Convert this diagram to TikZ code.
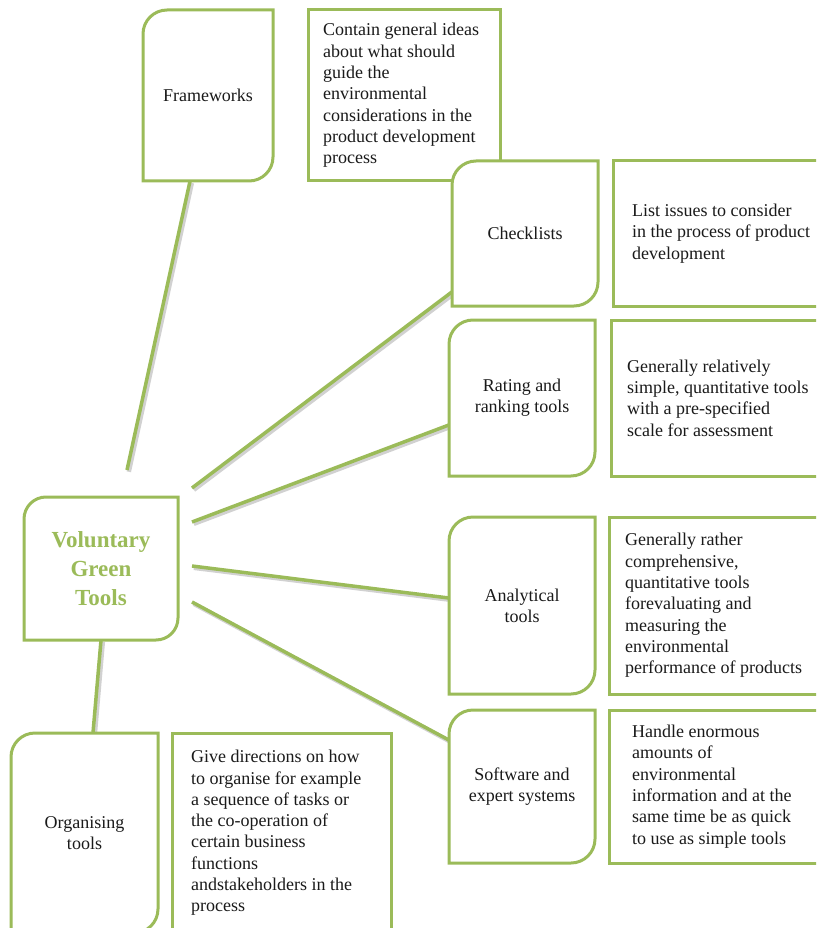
\documentclass[tikz,border=0pt]{standalone}
\usepackage{fontspec}
\setmainfont{Liberation Serif}
\definecolor{gr}{HTML}{9BBB59}
\definecolor{txt}{HTML}{1A1A1A}
\pgfdeclarelayer{bg}
\pgfsetlayers{bg,main}
\newcommand\rr{24}
\tikzset{
  boxline/.style={draw=gr, line width=3pt, fill=white},
  leaftext/.style={inner sep=0pt, align=center, text=txt, font=\fontsize{18}{21.3}\selectfont},
  desctext/.style={inner sep=0pt, align=left, text=txt, font=\fontsize{18}{21.3}\selectfont, anchor=west},
  descbox/.style={boxline, inner sep=0pt, rectangle},
  conn/.style={draw=gr, line width=3.5pt},
  connshadow/.style={draw=black, opacity=0.18, line width=4.5pt, transform canvas={shift={(1.8pt,-1.8pt)}}},
}
% name x1 y1 x2 y2 text   (pixel coordinates, y downward)
\newcommand\leafbox[6]{%
  \filldraw[boxline] (#2,-#5) -- (#2,-#3-\rr) arc[start angle=180,end angle=90,radius=\rr]
    -- (#4,-#3) -- (#4,-#5+\rr) arc[start angle=0,end angle=-90,radius=\rr] -- cycle;
  \node[leaftext, minimum width=#4-#2, minimum height=#5-#3] (#1) at ({(#2+#4)/2},{-(#3+#5)/2}) {#6};
}
% name x1 y1 x2 y2 textx text
\newcommand\descbox[7]{%
  \node[descbox, minimum width=#4-#2, minimum height=#5-#3] (#1) at ({(#2+#4)/2},{-(#3+#5)/2}) {};
  \node[desctext] (#1t) at (#6,{-(#3+#5)/2}) {#7};
}
\newcommand\conn[2]{%
  \draw[connshadow] #1 -- #2;
  \draw[conn] #1 -- #2;
}
\begin{document}
\begin{tikzpicture}[x=1pt,y=1pt]
\useasboundingbox (0,0) rectangle (816,-928);
\begin{scope}
\clip (0,0) rectangle (816,-928);
\leafbox{fw}{143}{10}{273}{181}{Frameworks}
\descbox{fwd}{308}{10}{500}{181}{323}{Contain general ideas\\about what should\\guide the\\environmental\\considerations in the\\product development\\process}
\leafbox{ck}{452}{161}{598}{306}{Checklists}
\descbox{ckd}{613}{161}{840}{306}{632}{List issues to consider\\in the process of product\\development}
\leafbox{rt}{449}{320}{595}{476}{Rating and\\ranking tools}
\descbox{rtd}{611}{320}{840}{476}{627}{Generally relatively\\simple, quantitative tools\\with a pre-specified\\scale for assessment}
\leafbox{an}{449}{517}{595}{694}{Analytical\\tools}
\descbox{and}{609}{517}{840}{694}{625}{Generally rather\\comprehensive,\\quantitative tools\\forevaluating and\\measuring the\\environmental\\performance of products}
\leafbox{sw}{449}{710}{595}{863}{Software and\\expert systems}
\descbox{swd}{609}{710}{840}{863}{632}{Handle enormous\\amounts of\\environmental\\information and at the\\same time be as quick\\to use as simple tools}
\filldraw[boxline] (24,-640) -- (24,-497-22) arc[start angle=180,end angle=90,radius=22]
    -- (178,-497) -- (178,-640+22) arc[start angle=0,end angle=-90,radius=22] -- cycle;
\node[inner sep=0pt, align=center, text=gr, font=\fontsize{23}{29}\selectfont\bfseries,
      minimum width=154, minimum height=143] (vg) at (101,-568.5) {Voluntary\\Green\\Tools};
\leafbox{og}{11}{733}{158}{933}{Organising\\tools}
\descbox{ogd}{172}{733}{391}{933}{191}{Give directions on how\\to organise for example\\a sequence of tasks or\\the co-operation of\\certain business\\functions\\andstakeholders in the\\process}
\end{scope}
\coordinate (fwend) at (127,-470);
\coordinate (s1) at (192,-488);
\coordinate (s2) at (192,-522);
\coordinate (s3) at (192,-566);
\coordinate (s4) at (192,-602);
\begin{pgfonlayer}{bg}
\conn{([xshift=-18pt]fw.south)}{(fwend)}
\conn{(s1)}{([yshift=-58.5pt]ck.west)}
\conn{(s2)}{([yshift=-27pt]rt.west)}
\conn{(s3)}{([yshift=7.5pt]an.west)}
\conn{(s4)}{([yshift=46.5pt]sw.west)}
\conn{(vg.south)}{([xshift=8.5pt]og.north)}
\end{pgfonlayer}
\end{tikzpicture}
\end{document}
